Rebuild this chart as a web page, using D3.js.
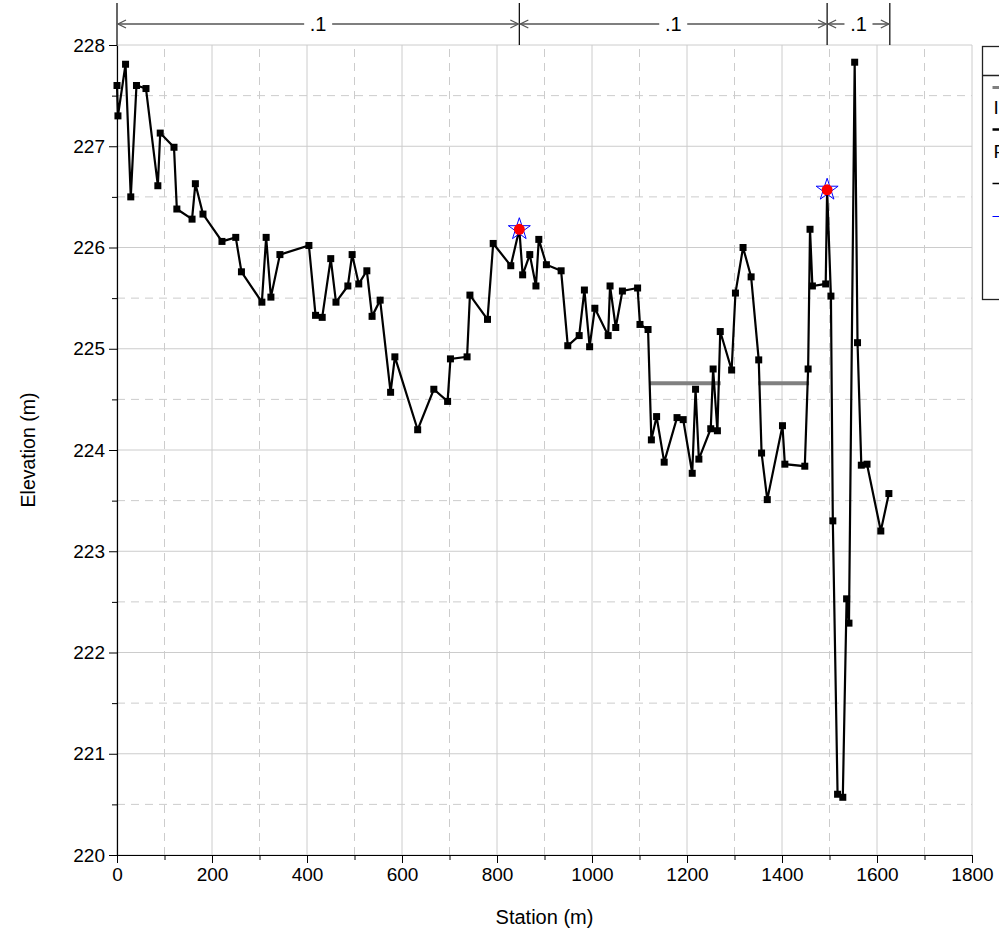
<!DOCTYPE html>
<html>
<head>
	<title>Profile</title>
	<script src="https://cdn.jsdelivr.net/npm/d3@7"></script>
	<style>
		body { margin: 0; background: #fff; }
		text { font-family: "Liberation Sans", Arial, sans-serif; }
	</style>
</head>
<body>
<script type="text/javascript">
	// survey points along the profile
	var stations = [0, 2, 18, 29, 41, 61, 86, 91, 120, 126, 158, 165, 181, 221, 250, 262, 305, 314, 324, 343,
		404, 418, 432, 450, 461, 486, 495, 509, 526, 537, 554, 576, 585, 633, 667, 696, 702, 737, 743, 780,
		792, 829, 847, 854, 869, 882, 888, 904, 935, 949, 973, 984, 995, 1006, 1034, 1038, 1050, 1064, 1096, 1101,
		1118, 1125, 1136, 1152, 1179, 1192, 1211, 1218, 1225, 1250, 1255, 1264, 1270, 1294, 1302, 1318, 1335, 1351, 1357, 1369,
		1401, 1406, 1448, 1455, 1459, 1464, 1492, 1495, 1503, 1507, 1517, 1528, 1536, 1541, 1553, 1559, 1567, 1579, 1608, 1625];
	var elevations = [227.6, 227.3, 227.81, 226.5, 227.6, 227.57, 226.61, 227.13, 226.99, 226.38, 226.28, 226.63, 226.33, 226.06, 226.10, 225.76, 225.46, 226.10, 225.51, 225.93,
		226.02, 225.33, 225.31, 225.89, 225.46, 225.62, 225.93, 225.64, 225.77, 225.32, 225.48, 224.57, 224.92, 224.20, 224.60, 224.48, 224.90, 224.92, 225.53, 225.29,
		226.04, 225.82, 226.18, 225.73, 225.93, 225.62, 226.08, 225.83, 225.77, 225.03, 225.13, 225.58, 225.02, 225.40, 225.13, 225.62, 225.21, 225.57, 225.60, 225.24,
		225.19, 224.10, 224.33, 223.88, 224.32, 224.30, 223.77, 224.60, 223.91, 224.21, 224.80, 224.19, 225.17, 224.79, 225.55, 226.00, 225.71, 224.89, 223.97, 223.51,
		224.24, 223.86, 223.84, 224.80, 226.18, 225.62, 225.64, 226.57, 225.52, 223.30, 220.60, 220.57, 222.53, 222.29, 227.83, 225.06, 223.85, 223.86, 223.20, 223.57];

	// flat grey segments (water surface)
	var wsStart = [1120, 1350];
	var wsEnd = [1271, 1457];
	var wsElev = [224.66, 224.66];

	// marked points (star + red dot)
	var markStations = [847, 1495];
	var markElevs = [226.18, 226.57];

	// dimension segments along the top
	var segBounds = [0, 847, 1495, 1627];
	var segLabels = [".1", ".1", ".1"];

	var xTicks = [0, 200, 400, 600, 800, 1000, 1200, 1400, 1600, 1800];
	var yTicks = [220, 221, 222, 223, 224, 225, 226, 227, 228];

	var legendLabels = ["Inferred water surface", "Profile"];

	var svgWidth = 999, svgHeight = 935;
	var margin = {top: 45, right: 27, bottom: 80, left: 117};
	var w = svgWidth - margin.left - margin.right,
	    h = svgHeight - margin.top - margin.bottom;

	var svg = d3.select("body").append("svg")
		.attr("width", svgWidth)
		.attr("height", svgHeight);

	var x = d3.scaleLinear().domain([0, 1800]).range([margin.left, margin.left + w]);
	var y = d3.scaleLinear().domain([220, 228]).range([margin.top + h, margin.top]);

	var gridColor = "#cccccc";

	// minor grid (dashed)
	var xMinor = d3.range(100, 1800, 200);
	var yMinor = d3.range(220.5, 228, 1);
	svg.append("g").selectAll("line").data(xMinor).enter().append("line")
		.attr("x1", d => x(d)).attr("x2", d => x(d))
		.attr("y1", y(220)).attr("y2", y(228))
		.attr("stroke", gridColor).attr("stroke-dasharray", "8,6");
	svg.append("g").selectAll("line").data(yMinor).enter().append("line")
		.attr("y1", d => y(d)).attr("y2", d => y(d))
		.attr("x1", x(0)).attr("x2", x(1800))
		.attr("stroke", gridColor).attr("stroke-dasharray", "8,6");

	// major grid
	svg.append("g").selectAll("line").data(xTicks).enter().append("line")
		.attr("x1", d => x(d)).attr("x2", d => x(d))
		.attr("y1", y(220)).attr("y2", y(228))
		.attr("stroke", gridColor);
	svg.append("g").selectAll("line").data(yTicks).enter().append("line")
		.attr("y1", d => y(d)).attr("y2", d => y(d))
		.attr("x1", x(0)).attr("x2", x(1800))
		.attr("stroke", gridColor);

	// axes
	svg.append("g")
		.attr("transform", "translate(0," + y(220) + ")")
		.call(d3.axisBottom(x).tickValues(xTicks).tickFormat(d3.format("d"))
			.tickSize(8).tickSizeOuter(0).tickPadding(5));
	svg.append("g")
		.attr("transform", "translate(0," + y(220) + ")")
		.call(d3.axisBottom(x).tickValues(xMinor).tickSize(5).tickFormat("").tickSizeOuter(0))
		.select(".domain").remove();
	svg.append("g")
		.attr("transform", "translate(" + x(0) + ",0)")
		.call(d3.axisLeft(y).tickValues(yTicks).tickFormat(d3.format("d"))
			.tickSize(8).tickSizeOuter(0).tickPadding(4));
	svg.append("g")
		.attr("transform", "translate(" + x(0) + ",0)")
		.call(d3.axisLeft(y).tickValues(yMinor).tickSize(5).tickFormat("").tickSizeOuter(0))
		.select(".domain").remove();

	svg.selectAll(".tick text").attr("font-size", 19).attr("fill", "#000")
		.attr("font-family", "'Liberation Sans', Arial, sans-serif");
	svg.selectAll(".domain").attr("stroke", "#000").attr("stroke-width", 1.2);

	// axis titles
	svg.append("text")
		.attr("x", x(900)).attr("y", 924)
		.attr("text-anchor", "middle").attr("font-size", 20)
		.text("Station (m)");
	svg.append("text")
		.attr("transform", "translate(35," + y(224) + ") rotate(-90)")
		.attr("text-anchor", "middle").attr("font-size", 19.5)
		.text("Elevation (m)");

	// water surface segments
	svg.append("g").selectAll("line").data(wsStart).enter().append("line")
		.attr("x1", (d, i) => x(d)).attr("x2", (d, i) => x(wsEnd[i]))
		.attr("y1", (d, i) => y(wsElev[i])).attr("y2", (d, i) => y(wsElev[i]))
		.attr("stroke", "#808080").attr("stroke-width", 4);

	// profile line
	var pts = stations.map((s, i) => [s, elevations[i]]);
	var line = d3.line().x(d => x(d[0])).y(d => y(d[1]));
	svg.append("path")
		.datum(pts)
		.attr("d", line)
		.attr("fill", "none")
		.attr("stroke", "#000")
		.attr("stroke-width", 2.2)
		.attr("stroke-linejoin", "miter");

	svg.append("g").selectAll("rect").data(pts).enter().append("rect")
		.attr("x", d => x(d[0]) - 3.5).attr("y", d => y(d[1]) - 3.5)
		.attr("width", 7).attr("height", 7)
		.attr("fill", "#000");

	// marked points
	var star = d3.symbol().type(d3.symbolStar).size(150);
	var marks = svg.append("g").selectAll("g").data(markStations).enter().append("g")
		.attr("transform", (d, i) => "translate(" + x(d) + "," + y(markElevs[i]) + ")");
	marks.append("path").attr("d", star)
		.attr("fill", "none").attr("stroke", "#0000ff").attr("stroke-width", 1);
	marks.append("circle").attr("r", 5.5).attr("fill", "#ff0000");

	// dimension lines on top
	var dimY = 24;
	var dim = svg.append("g");
	dim.selectAll("line.tk").data(segBounds).enter().append("line")
		.attr("x1", d => x(d)).attr("x2", d => x(d))
		.attr("y1", 3).attr("y2", y(228))
		.attr("stroke", "#000").attr("stroke-width", 1.2);
	segLabels.forEach(function(lab, i) {
		var x0 = x(segBounds[i]), x1 = x(segBounds[i + 1]), xm = (x0 + x1) / 2;
		var gap = 14;
		dim.append("line").attr("x1", x0 + 1).attr("x2", xm - gap)
			.attr("y1", dimY).attr("y2", dimY).attr("stroke", "#555").attr("stroke-width", 1.5);
		dim.append("line").attr("x1", xm + gap).attr("x2", x1 - 1)
			.attr("y1", dimY).attr("y2", dimY).attr("stroke", "#555").attr("stroke-width", 1.5);
		dim.append("path")
			.attr("d", "M" + (x0 + 9) + "," + (dimY - 4) + "L" + (x0 + 1) + "," + dimY + "L" + (x0 + 9) + "," + (dimY + 4))
			.attr("fill", "none").attr("stroke", "#555").attr("stroke-width", 1.3);
		dim.append("path")
			.attr("d", "M" + (x1 - 9) + "," + (dimY - 4) + "L" + (x1 - 1) + "," + dimY + "L" + (x1 - 9) + "," + (dimY + 4))
			.attr("fill", "none").attr("stroke", "#555").attr("stroke-width", 1.3);
		dim.append("text").attr("x", xm).attr("y", dimY + 7)
			.attr("text-anchor", "middle").attr("font-size", 20)
			.text(lab);
	});

	// legend (runs off the right edge, as in the original)
	var lg = svg.append("g").attr("transform", "translate(982.5,46.5)");
	lg.append("rect").attr("width", 200).attr("height", 253)
		.attr("fill", "#fff").attr("stroke", "#222").attr("stroke-width", 1.3);
	lg.append("line").attr("x1", 0).attr("x2", 200).attr("y1", 29).attr("y2", 29)
		.attr("stroke", "#222").attr("stroke-width", 1.3);
	lg.append("line").attr("x1", 10).attr("x2", 40).attr("y1", 41).attr("y2", 41)
		.attr("stroke", "#808080").attr("stroke-width", 3);
	lg.append("text").attr("x", 11).attr("y", 67).attr("font-size", 19).text(legendLabels[0]);
	lg.append("line").attr("x1", 10).attr("x2", 40).attr("y1", 83).attr("y2", 83)
		.attr("stroke", "#000").attr("stroke-width", 2.5);
	lg.append("text").attr("x", 11).attr("y", 111).attr("font-size", 19).text(legendLabels[1]);
	lg.append("line").attr("x1", 10).attr("x2", 40).attr("y1", 137).attr("y2", 137)
		.attr("stroke", "#000").attr("stroke-width", 1.5);
	lg.append("line").attr("x1", 10).attr("x2", 40).attr("y1", 170).attr("y2", 170)
		.attr("stroke", "#0000ff").attr("stroke-width", 1);
</script>
</body>
</html>
